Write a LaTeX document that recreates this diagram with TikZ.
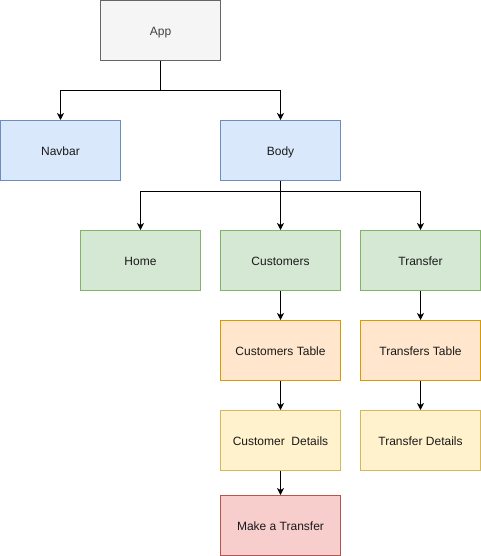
\documentclass[tikz,border=0pt]{standalone}
\usepackage{fontspec}
\setmainfont{Liberation Sans}
\usetikzlibrary{arrows.meta}
\definecolor{grayF}{HTML}{F5F5F5}\definecolor{grayS}{HTML}{666666}
\definecolor{blueF}{HTML}{DAE8FC}\definecolor{blueS}{HTML}{6C8EBF}
\definecolor{greenF}{HTML}{D5E8D4}\definecolor{greenS}{HTML}{82B366}
\definecolor{orF}{HTML}{FFE6CC}\definecolor{orS}{HTML}{D79B00}
\definecolor{yeF}{HTML}{FFF2CC}\definecolor{yeS}{HTML}{D6B656}
\definecolor{reF}{HTML}{F8CECC}\definecolor{reS}{HTML}{B85450}
\definecolor{txt}{HTML}{1A1A1A}
\tikzset{
  box/.style={draw, line width=1pt, minimum width=120pt, minimum height=60pt, inner sep=0pt, text height=10pt, text depth=0pt, font=\fontsize{12}{14}\selectfont, text=txt},
  graybox/.style={box, fill=grayF, draw=grayS, text=black!75},
  bluebox/.style={box, fill=blueF, draw=blueS},
  greenbox/.style={box, fill=greenF, draw=greenS},
  orbox/.style={box, fill=orF, draw=orS},
  yebox/.style={box, fill=yeF, draw=yeS},
  rebox/.style={box, fill=reF, draw=reS},
  conn/.style={line width=1pt, -{Stealth[length=7pt,width=7pt,inset=2pt]}},
}
\begin{document}
\begin{tikzpicture}[x=1pt,y=-1pt]
\useasboundingbox (0,0) rectangle (481,556);
\node[graybox] (app) at (160.5,30.5) {App};
\node[bluebox] (navbar) at (60.5,150.5) {Navbar};
\node[bluebox] (body) at (280.5,150.5) {Body};
\node[greenbox] (home) at (140.5,260.5) {Home};
\node[greenbox] (cust) at (280.5,260.5) {Customers};
\node[greenbox] (trans) at (420.5,260.5) {Transfer};
\node[orbox] (ctable) at (280.5,350.5) {Customers Table};
\node[orbox] (ttable) at (420.5,350.5) {Transfers Table};
\node[yebox] (cdet) at (280.5,440.5) {Customer\ \ Details};
\node[yebox] (tdet) at (420.5,440.5) {Transfer Details};
\node[rebox] (make) at (280.5,525.5) {Make a Transfer};
\draw[conn] (app.south) -- ++(0,30) -| (navbar.north);
\draw[conn] (app.south) -- ++(0,30) -| (body.north);
\draw[conn] (body.south) -- ++(0,10) -| (home.north);
\draw[conn] (body.south) -- (cust.north);
\draw[conn] (body.south) -- ++(0,10) -| (trans.north);
\draw[conn] (cust) -- (ctable);
\draw[conn] (trans) -- (ttable);
\draw[conn] (ctable) -- (cdet);
\draw[conn] (ttable) -- (tdet);
\draw[conn] (cdet) -- (make);
\end{tikzpicture}
\end{document}
